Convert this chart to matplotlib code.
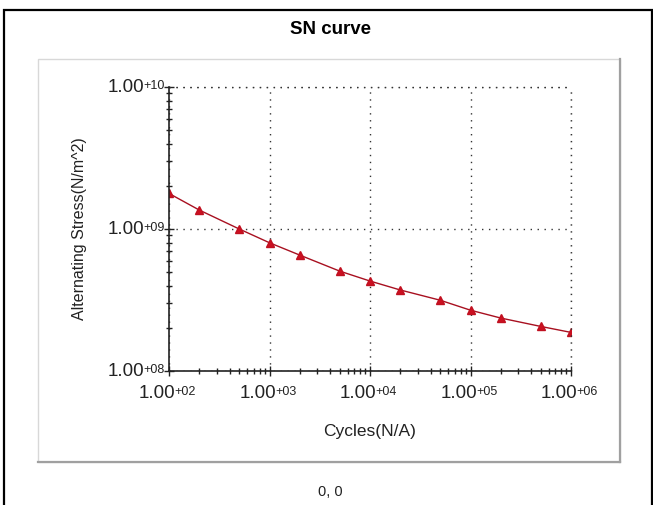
import math
import matplotlib.pyplot as plt
from matplotlib.patches import Rectangle
from matplotlib.ticker import LogLocator, NullFormatter

cycles = [1e2, 2e2, 5e2, 1e3, 2e3, 5e3, 1e4, 2e4, 5e4, 1e5, 2e5, 5e5, 1e6]
stress = [1.78e9, 1.36e9, 1.0e9, 8.0e8, 6.55e8, 5.05e8, 4.3e8, 3.72e8,
          3.15e8, 2.68e8, 2.36e8, 2.06e8, 1.87e8]
x_ticks = [1e2, 1e3, 1e4, 1e5, 1e6]
y_ticks = [1e8, 1e9, 1e10]

FONT = 'Liberation Sans'
W, H = 653, 505
fig = plt.figure(figsize=(W / 100, H / 100), dpi=100)
fig.patch.set_facecolor('white')

# outer black frame and inner grey panel
fig.add_artist(Rectangle((4 / W, -0.01), 648 / W, (H - 10) / H + 0.01,
                         transform=fig.transFigure, fill=False,
                         edgecolor='black', linewidth=1.6))
fig.add_artist(Rectangle((38 / W, (H - 462) / H), 582 / W, 403 / H,
                         transform=fig.transFigure, fill=False,
                         edgecolor='#d8d8d8', linewidth=1.0))
fig.add_artist(plt.Line2D([620 / W, 620 / W], [(H - 462) / H, (H - 59) / H],
                          transform=fig.transFigure, color='#a0a0a0', linewidth=1.6))
fig.add_artist(plt.Line2D([38 / W, 620 / W], [(H - 462) / H, (H - 462) / H],
                          transform=fig.transFigure, color='#a0a0a0', linewidth=1.6))

fig.text(330 / W, 1 - 30 / H, 'SN curve', ha='center', va='center',
         fontsize=13.5, fontweight='bold', family=FONT)
fig.text(330 / W, 1 - 492 / H, '0, 0', ha='center', va='center',
         fontsize=10.5, family=FONT, color='#222222')

ax = fig.add_axes([169 / W, (H - 371) / H, (571 - 169) / W, (371 - 87) / H])
ax.plot(cycles, stress, color='#a81020', linewidth=1.0, marker='^',
        markersize=5.5, markerfacecolor='#cc1020', markeredgecolor='#c01020')
ax.set_xscale('log')
ax.set_yscale('log')
ax.set_xlim(x_ticks[0], x_ticks[-1])
ax.set_ylim(y_ticks[0], y_ticks[-1])

ax.spines['top'].set_visible(False)
ax.spines['right'].set_visible(False)
for s in ('left', 'bottom'):
    ax.spines[s].set_linewidth(1.2)
    ax.spines[s].set_color('#222222')

ax.set_xticks(x_ticks)
ax.set_yticks(y_ticks)
ax.xaxis.set_minor_locator(LogLocator(base=10, subs=range(2, 10), numticks=20))
ax.yaxis.set_minor_locator(LogLocator(base=10, subs=range(2, 10), numticks=20))
for axis in (ax.xaxis, ax.yaxis):
    axis.set_major_formatter(NullFormatter())
    axis.set_minor_formatter(NullFormatter())
ax.tick_params(which='major', direction='inout', length=7, width=1.0,
               colors='#222222')
ax.tick_params(which='minor', direction='inout', length=5, width=1.0,
               colors='#222222')

# "1.00+XX" style tick labels: mantissa big, exponent small and raised
MAN_FS, EXP_FS = 13.5, 9
man_w = 1.85 * MAN_FS * 100 / 72
exp_w = 1.696 * EXP_FS * 100 / 72
lab_kw = dict(textcoords='offset pixels', family=FONT, color='#222222',
              annotation_clip=False)
for v in x_ticks:
    e = int(round(math.log10(v)))
    split = (man_w - exp_w) / 2
    ax.annotate('1.00', (v, 0), xycoords=ax.get_xaxis_transform(),
                xytext=(split, -23), ha='right', va='center', fontsize=MAN_FS, **lab_kw)
    ax.annotate('+%02d' % e, (v, 0), xycoords=ax.get_xaxis_transform(),
                xytext=(split - 1, -21), ha='left', va='center', fontsize=EXP_FS, **lab_kw)
for v in y_ticks:
    e = int(round(math.log10(v)))
    ax.annotate('+%02d' % e, (0, v), xycoords=ax.get_yaxis_transform(),
                xytext=(-4, 1), ha='right', va='center', fontsize=EXP_FS, **lab_kw)
    ax.annotate('1.00', (0, v), xycoords=ax.get_yaxis_transform(),
                xytext=(-4 - exp_w, -1), ha='right', va='center', fontsize=MAN_FS, **lab_kw)

ax.grid(True, which='major', linestyle=(0, (1, 4)), color='#333333', linewidth=1.0)
ax.plot([x_ticks[0], x_ticks[-1]], [y_ticks[-1], y_ticks[-1]], linestyle=(0, (1, 4)),
        color='#333333', linewidth=1.0, clip_on=False)
ax.plot([x_ticks[-1], x_ticks[-1]], [y_ticks[0], y_ticks[-1]], linestyle=(0, (1, 4)),
        color='#333333', linewidth=1.0, clip_on=False)

ax.set_xlabel('Cycles(N/A)', fontsize=12.5, family=FONT, color='#222222')
ax.xaxis.set_label_coords(0.5, -0.185)
ax.set_ylabel('Alternating Stress(N/m^2)', fontsize=11.5, family=FONT, color='#222222')
ax.yaxis.set_label_coords(-0.205, 0.5)

fig.savefig('out.png', dpi=100)
